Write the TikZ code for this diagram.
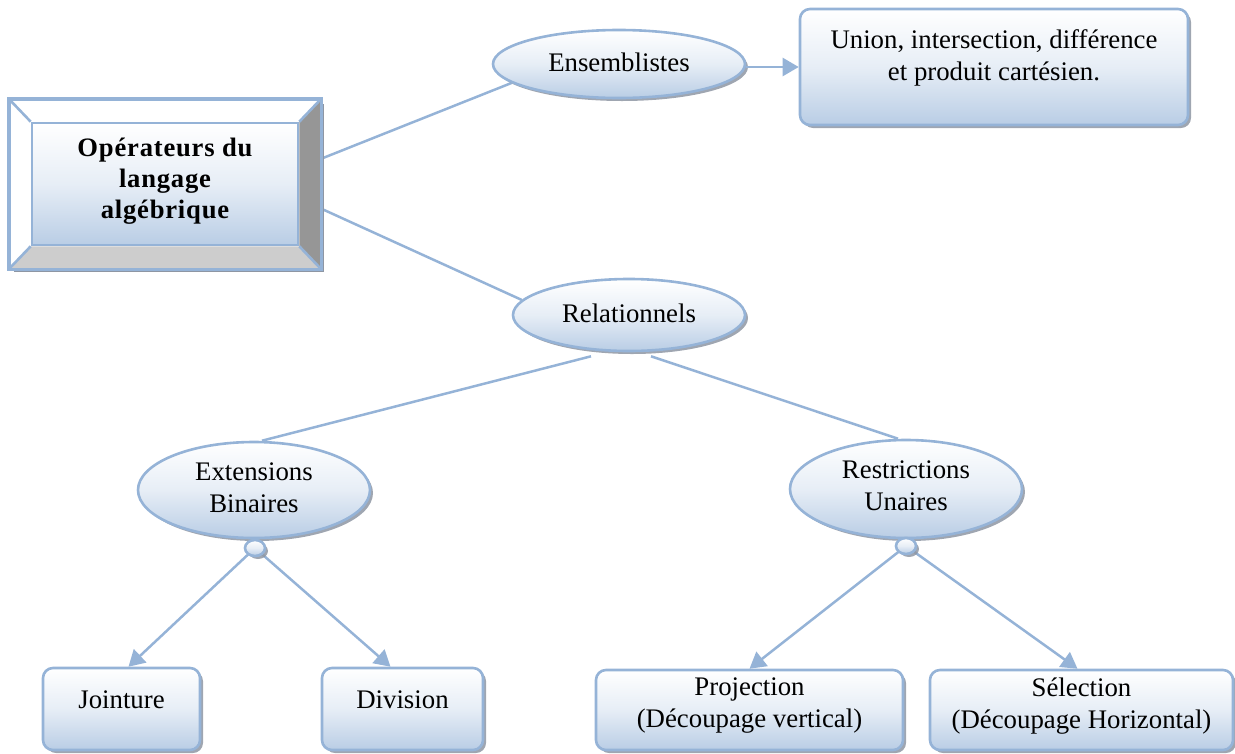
\documentclass[tikz,border=0pt]{standalone}
\usepackage{fontspec}
\setmainfont{Liberation Serif}
\usetikzlibrary{shapes.geometric,arrows.meta,shadows,calc,backgrounds}
\definecolor{lb}{HTML}{95B3D7}
\definecolor{fb}{HTML}{B9CDE5}
\definecolor{sh}{HTML}{8E96A3}
\definecolor{bevR}{HTML}{969696}
\definecolor{bevB}{HTML}{CDCDCD}
\tikzset{
  base/.style={draw=lb, line width=2.6pt, top color=white, bottom color=fb, middle color=fb!35!white},
  shad/.style={drop shadow={shadow xshift=3pt, shadow yshift=-3pt, fill=sh, opacity=0.85}},
  oval/.style={base, shad, ellipse, inner sep=0pt},
  rbox/.style={base, shad, rounded corners=10pt, inner sep=0pt},
  txt/.style={font=\fontsize{26.8}{32}\selectfont, align=center, inner sep=0pt},
  conn/.style={draw=lb, line width=2.5pt},
  arr/.style={conn, -{Triangle[length=16pt,width=18pt]}},
}
\begin{document}
\begin{tikzpicture}[x=1pt,y=-1pt]
\useasboundingbox (0,0) rectangle (1235,753);

% bevel box
\fill[sh] (14,104) rectangle (324,272);
\node (ops) [draw=lb, line width=2.6pt, fill=white, minimum width=310pt, minimum height=168pt, inner sep=0pt] at (165,184) {};
\fill[bevR] (ops.north east) -- (ops.south east) -- ($(ops.south east)+(-22,-23)$) -- ($(ops.north east)+(-22,23)$) -- cycle;
\fill[bevB] (ops.south west) -- (ops.south east) -- ($(ops.south east)+(-22,-23)$) -- ($(ops.south west)+(22,-23)$) -- cycle;
\draw[lb, line width=2.6pt] (ops.north west) -- ($(ops.north west)+(22,23)$)
  (ops.north east) -- ($(ops.north east)+(-22,23)$)
  (ops.south west) -- ($(ops.south west)+(22,-23)$)
  (ops.south east) -- ($(ops.south east)+(-22,-23)$);
\draw[lb, line width=2.6pt] (ops.north west) rectangle (ops.south east);
\node (opsin) [draw=lb, line width=2.6pt, top color=white, bottom color=fb, middle color=fb!35!white, minimum width=266pt, minimum height=122pt, inner sep=0pt] at (165,184) {};
\node (opst) [txt, font=\fontsize{26.6}{31}\selectfont\bfseries\addfontfeatures{LetterSpace=3}] at (165,181) {Opérateurs du\\langage\\algébrique};

% ellipses
\node (ens) [oval, minimum width=252pt, minimum height=68pt] at (619,64) {};
\node (enst) [txt] at (619,62) {Ensemblistes};
\node (rel) [oval, minimum width=232pt, minimum height=72pt] at (629,315) {};
\node (relt) [txt] at (629,313) {Relationnels};
\node (ext) [oval, minimum width=232pt, minimum height=96pt] at (254,490) {};
\node (extt) [txt] at (254,488) {Extensions\\Binaires};
\node (res) [oval, minimum width=232pt, minimum height=98pt] at (906,489) {};
\node (rest) [txt] at (906,486) {Restrictions\\Unaires};
\node (c1) [oval, minimum width=20pt, minimum height=16pt] at (255,548) {};
\node (c2) [oval, minimum width=20pt, minimum height=16pt] at (906,546) {};

% boxes
\node (un) [rbox, minimum width=388pt, minimum height=116pt] at (994,67) {};
\node (unt) [txt] at (994,58) {Union, intersection, différence\\et produit cartésien.};
\node (joi) [rbox, minimum width=157pt, minimum height=82pt] at (121.5,709) {};
\node (joit) [txt] at (121.5,700) {Jointure};
\node (div) [rbox, minimum width=161pt, minimum height=82pt] at (402.5,709) {};
\node (divt) [txt] at (402.5,700) {Division};
\node (pro) [rbox, minimum width=307pt, minimum height=80pt] at (749.5,710) {};
\node (prot) [txt] at (749.5,706) {Projection\\(Découpage vertical)};
\node (sel) [rbox, minimum width=303pt, minimum height=80pt] at (1081.5,710) {};
\node (selt) [txt] at (1081.5,706) {Sélection\\(Découpage Horizontal)};

% connectors
\begin{scope}[on background layer]
\draw[conn] ($(ops.north east)+(0,60)$) -- (ens.190);
\draw[conn] ($(ops.north east)+(0,110)$) -- (rel.172);
\draw[conn] ($(rel.south)+(-38,4)$) -- ($(ext.north)+(8,0)$);
\draw[conn] ($(rel.south)+(22,4)$) -- ($(res.north)+(-8,0)$);
\draw[arr] (c1.center) -- ($(joi.north)+(7,0)$);
\draw[arr] (c1.center) -- ($(div.north)+(-12,0)$);
\draw[arr] (c2.center) -- (pro.north);
\draw[arr] (c2.center) -- ($(sel.north)+(-4,0)$);
\end{scope}
\draw[arr] (ens.east |- un.west) -- (un.west);
\end{tikzpicture}
\end{document}
